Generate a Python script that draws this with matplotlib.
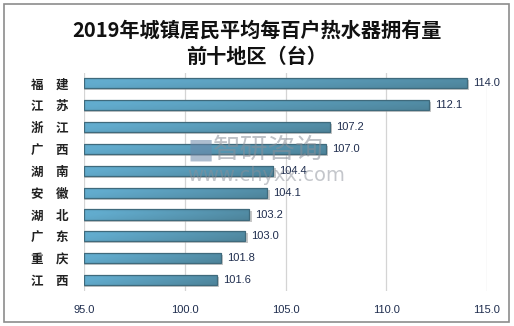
import numpy as np
import matplotlib.pyplot as plt
from matplotlib.patches import Rectangle
from matplotlib.colors import to_rgb

plt.rcParams['font.family'] = ['Noto Sans CJK SC', 'DejaVu Sans']

regions = ['福\u3000建', '江\u3000苏', '浙\u3000江', '广\u3000西', '湖\u3000南',
           '安\u3000徽', '湖\u3000北', '广\u3000东', '重\u3000庆', '江\u3000西']
values = [114.0, 112.1, 107.2, 107.0, 104.4, 104.1, 103.2, 103.0, 101.8, 101.6]
xticks = [95.0, 100.0, 105.0, 110.0, 115.0]

fig = plt.figure(figsize=(5.14, 3.26), dpi=100)
# outer frame
fig.patches.append(Rectangle((0.008, 0.012), 0.982, 0.976, transform=fig.transFigure,
                             fill=False, edgecolor='#8c8c8c', lw=1.2))

ax = fig.add_axes([0.1634, 0.1074, 0.7841, 0.6702])
xmin, xmax = 95, 115
n = len(regions)
ypos = np.arange(n)[::-1]
h = 0.46

ax.set_xlim(xmin, xmax)
ax.set_ylim(-0.5, n - 0.5)

light = np.array(to_rgb('#62acce'))
dark = np.array(to_rgb('#4b7f94'))
for y, v in zip(ypos, values):
    # drop shadow
    ax.add_patch(Rectangle((xmin, y - h / 2 - 0.09), v - xmin + 0.12, h,
                           facecolor='#9a9a9a', edgecolor='none', alpha=0.55, zorder=2))
    # gradient fill: lighter on the left and top
    gx = np.linspace(0, 1, 64)
    gy = np.linspace(0, 1, 16)
    t = gx[None, :] * 0.8 + (1 - np.abs(gy[:, None] - 0.35) * 1.4).clip(0, 1) * -0.2 + 0.12
    t = t.clip(0, 1)
    img = light[None, None, :] * (1 - t[..., None]) + dark[None, None, :] * t[..., None]
    bar = Rectangle((xmin, y - h / 2), v - xmin, h, facecolor='none',
                    edgecolor='#3f6a7c', lw=0.9, zorder=4)
    ax.add_patch(bar)
    im = ax.imshow(img, extent=(xmin, v, y - h / 2, y + h / 2), origin='upper',
                   aspect='auto', zorder=3, interpolation='bilinear')
    im.set_clip_path(bar)
    ax.text(v + 0.3, y, f'{v:.1f}', va='center', ha='left', fontsize=8,
            color='#1f2d4e', family=['Liberation Sans', 'DejaVu Sans'], zorder=5)

ax.set_xticks(xticks)
ax.set_xticklabels([f'{t:.1f}' for t in xticks], fontsize=8, color='#1f2d4e',
                   family=['Liberation Sans', 'DejaVu Sans'])
ax.set_yticks(ypos)
ax.set_yticklabels(regions, fontsize=9, fontweight='bold', color='#222222')
ax.tick_params(axis='x', length=0, pad=10)
ax.tick_params(axis='y', length=0, pad=11)
ax.grid(axis='x', color='#d4d4d4', lw=0.9, zorder=0)
for s in ax.spines.values():
    s.set_visible(False)

fig.text(0.5, 0.906, '2019年城镇居民平均每百户热水器拥有量', ha='center', va='center',
         fontsize=14.5, fontweight='bold', color='#111111')
fig.text(0.5, 0.826, '前十地区（台）', ha='center', va='center',
         fontsize=14.5, fontweight='bold', color='#111111')

# watermark
fig.text(0.365, 0.54, '\u25a0', fontsize=20, color='#6b87a8', alpha=0.55,
         ha='left', va='center', zorder=10, family=['DejaVu Sans'])
fig.text(0.415, 0.54, '智研咨询', fontsize=20, color='#8a8f98', alpha=0.55,
         ha='left', va='center', zorder=10)
fig.text(0.364, 0.462, 'www.chyxx.com', fontsize=14, color='#8a8f98', alpha=0.5,
         ha='left', va='center', zorder=10, family=['DejaVu Sans'])

fig.savefig('out.png', dpi=100)
